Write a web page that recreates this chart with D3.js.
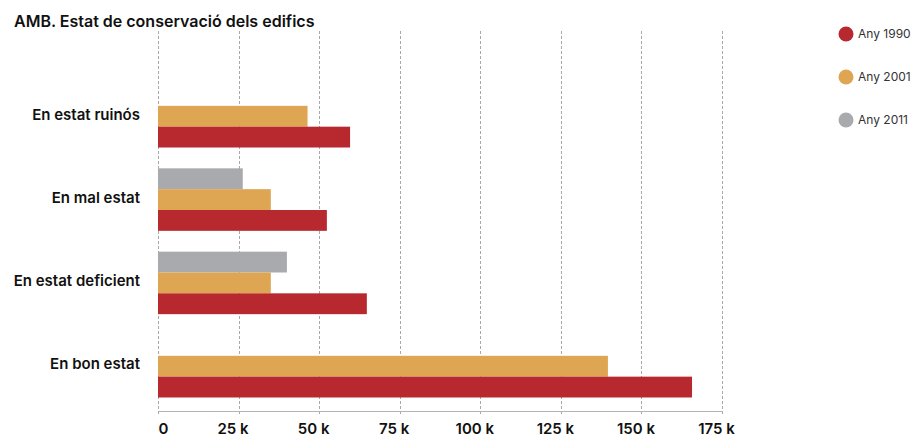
<!DOCTYPE html>
<html>
<head>
<meta charset="utf-8">
<script src="https://cdn.jsdelivr.net/npm/d3@7"></script>
<style>
  html, body { margin: 0; padding: 0; background: #fff; }
  svg { display: block; font-family: Inter, "Noto Sans", sans-serif; }
</style>
</head>
<body>
<svg id="chart" width="916" height="439"></svg>
<script>
// Building condition categories, top to bottom
const categories = ["En estat ruinós", "En mal estat", "En estat deficient", "En bon estat"];
// Series (census years), stacked top to bottom within each group
const seriesNames = ["Any 2011", "Any 2001", "Any 1990"];
// Number of buildings per category (null = no data for that year)
const values2011 = [null, 26300, 40000, null];
const values2001 = [46400, 35000, 35000, 139600];
const values1990 = [59600, 52400, 64800, 165700];
const tickValues = [0, 25000, 50000, 75000, 100000, 125000, 150000, 175000];
const legendOrder = ["Any 1990", "Any 2001", "Any 2011"];

const colors = { "Any 1990": "#b8282f", "Any 2001": "#dea552", "Any 2011": "#a9aaae" };
const seriesValues = { "Any 2011": values2011, "Any 2001": values2001, "Any 1990": values1990 };

const svg = d3.select("#chart");

const x = d3.scaleLinear().domain([0, 175000]).range([158, 722]);
const y = d3.scaleBand().domain(categories).range([74.6, 407.9]).paddingInner(0.25).paddingOuter(0.125);
const ySub = d3.scaleBand().domain(seriesNames).range([0, y.bandwidth()]);

// Dashed vertical gridlines
svg.append("g")
  .selectAll("line")
  .data(tickValues)
  .join("line")
  .attr("x1", d => Math.round(x(d)) + 0.5)
  .attr("x2", d => Math.round(x(d)) + 0.5)
  .attr("y1", 31)
  .attr("y2", 414)
  .attr("stroke", "#a8a8a8")
  .attr("stroke-width", 1)
  .attr("stroke-dasharray", "3,2");

// Baseline
svg.append("line")
  .attr("x1", Math.round(x(0)))
  .attr("x2", Math.round(x(175000)) + 1)
  .attr("y1", 411.5)
  .attr("y2", 411.5)
  .attr("stroke", "#b4b4b4")
  .attr("stroke-width", 1);

// Bars
const rows = [];
categories.forEach((c, i) => {
  seriesNames.forEach(s => {
    const v = seriesValues[s][i];
    if (v != null) rows.push({ category: c, series: s, value: v });
  });
});

svg.append("g")
  .selectAll("rect")
  .data(rows)
  .join("rect")
  .attr("x", x(0))
  .attr("y", d => y(d.category) + ySub(d.series))
  .attr("width", d => x(d.value) - x(0))
  .attr("height", ySub.bandwidth())
  .attr("fill", d => colors[d.series]);

// Category labels
svg.append("g")
  .selectAll("text")
  .data(categories)
  .join("text")
  .attr("x", 140)
  .attr("y", d => y(d) + y.bandwidth() / 2 - 2)
  .attr("dy", "0.35em")
  .attr("text-anchor", "end")
  .attr("font-size", 15)
  .attr("font-weight", 600)
  .attr("fill", "#111")
  .text(d => d);

// X axis tick labels
const fmt = d => d === 0 ? "0" : (d / 1000) + " k";
const axis = svg.append("g")
  .attr("transform", "translate(0,434)")
  .call(d3.axisBottom(x).tickValues(tickValues).tickFormat(fmt).tickSize(0).tickPadding(0));
axis.select(".domain").remove();
axis.selectAll("text")
  .attr("font-family", "Inter, 'Noto Sans', sans-serif")
  .attr("font-size", 15)
  .attr("font-weight", 600)
  .attr("fill", "#111")
  .attr("y", 0)
  .attr("dy", "0")
  .attr("dx", d => d === 0 ? 0 : -6)
  .attr("text-anchor", d => d === 0 ? "start" : "middle");

// Title
svg.append("text")
  .attr("x", 14)
  .attr("y", 27)
  .attr("font-size", 16)
  .attr("font-weight", 600)
  .attr("fill", "#111")
  .text("AMB. Estat de conservació dels edifics");

// Legend
const legend = svg.append("g")
  .selectAll("g")
  .data(legendOrder)
  .join("g")
  .attr("transform", (d, i) => `translate(846,${34 + i * 43})`);
legend.append("circle")
  .attr("r", 7.5)
  .attr("fill", d => colors[d]);
legend.append("text")
  .attr("x", 12)
  .attr("dy", "0.35em")
  .attr("font-size", 12)
  .attr("fill", "#333")
  .text(d => d);
</script>
</body>
</html>
